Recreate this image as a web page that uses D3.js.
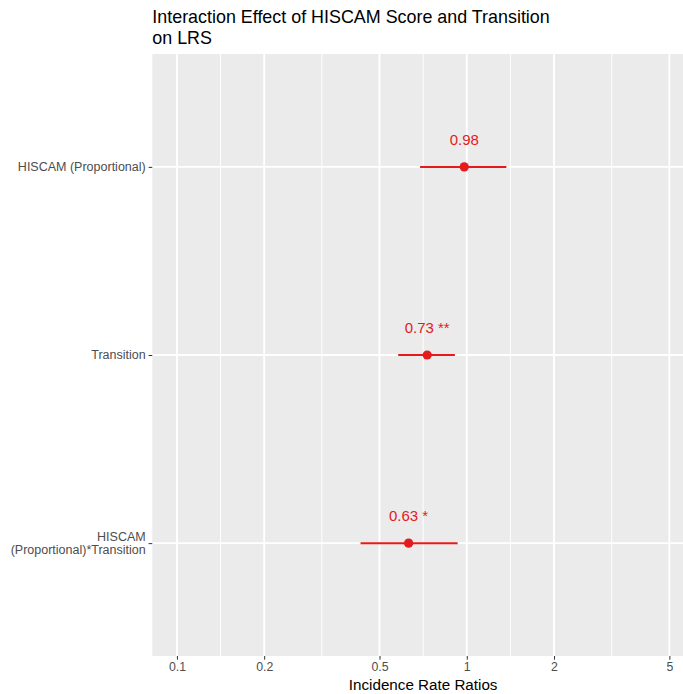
<!DOCTYPE html>
<html>
<head>
<meta charset="utf-8">
<script src="https://cdn.jsdelivr.net/npm/d3@7"></script>
<style>
  body { margin: 0; background: #fff; }
  svg { display: block; font-family: "Liberation Sans", Arial, Helvetica, sans-serif; }
</style>
</head>
<body>
<div id="chart"></div>
<script>
// data
const terms = ["HISCAM (Proportional)", "Transition", "HISCAM (Proportional)*Transition"];
const termLines = [["HISCAM (Proportional)"], ["Transition"], ["HISCAM", "(Proportional)*Transition"]];
const estimates = [0.98, 0.73, 0.63];
const lowerCI = [0.69, 0.58, 0.43];
const upperCI = [1.37, 0.91, 0.93];
const pLabels = ["0.98", "0.73 **", "0.63 *"];
const xTicks = [0.1, 0.2, 0.5, 1, 2, 5];
const xMinor = [0.1414, 0.3162, 0.7071, 1.4142, 3.1623];

const WIDTH = 683, HEIGHT = 694;
const PANEL = { left: 152.3, right: 694, top: 54, bottom: 656 };
const RED = "#E41A1C";

const svg = d3.select("#chart")
    .append("svg")
    .attr("width", WIDTH)
    .attr("height", HEIGHT);

// log scale, ggplot style 5% expansion around 0.1..5
const expand = 0.05 * (Math.log10(5) - Math.log10(0.1));
const x = d3.scaleLog()
    .domain([0.1 / Math.pow(10, expand), 5 * Math.pow(10, expand)])
    .range([PANEL.left, PANEL.right]);

// discrete y, 0.6 expansion each side, first term at top
const yUnit = (PANEL.bottom - PANEL.top) / (terms.length - 1 + 1.2);
const y = d3.scalePoint()
    .domain(terms)
    .range([PANEL.top + 0.6 * yUnit, PANEL.bottom - 0.6 * yUnit]);

svg.append("rect")
    .attr("x", PANEL.left)
    .attr("y", PANEL.top)
    .attr("width", PANEL.right - PANEL.left)
    .attr("height", PANEL.bottom - PANEL.top)
    .attr("fill", "#EBEBEB");

const grid = svg.append("g");
grid.selectAll(".minor")
    .data(xMinor)
    .enter()
    .append("line")
    .attr("x1", d => x(d)).attr("x2", d => x(d))
    .attr("y1", PANEL.top).attr("y2", PANEL.bottom)
    .attr("stroke", "#fff")
    .attr("stroke-width", 0.95);

grid.selectAll(".major")
    .data(xTicks)
    .enter()
    .append("line")
    .attr("x1", d => x(d)).attr("x2", d => x(d))
    .attr("y1", PANEL.top).attr("y2", PANEL.bottom)
    .attr("stroke", "#fff")
    .attr("stroke-width", 1.9);

grid.selectAll(".hmajor")
    .data(terms)
    .enter()
    .append("line")
    .attr("x1", PANEL.left).attr("x2", PANEL.right)
    .attr("y1", d => y(d)).attr("y2", d => y(d))
    .attr("stroke", "#fff")
    .attr("stroke-width", 1.9);

// x axis
const xAxis = svg.append("g")
    .attr("transform", `translate(0, ${PANEL.bottom})`)
    .call(d3.axisBottom(x).tickValues(xTicks).tickFormat(d3.format("~g")).tickSize(3.7).tickPadding(3));
xAxis.select(".domain").remove();
xAxis.selectAll(".tick line").attr("stroke", "#333").attr("stroke-width", 1);
xAxis.selectAll(".tick text")
    .attr("fill", "#4D4D4D")
    .style("font-size", "12.3px")
    .style("font-family", "'Liberation Sans', Arial, sans-serif");

// y axis
const yAxis = svg.append("g")
    .attr("transform", `translate(${PANEL.left}, 0)`)
    .call(d3.axisLeft(y).tickSize(3.7).tickFormat(""));
yAxis.select(".domain").remove();
yAxis.selectAll(".tick line").attr("stroke", "#333").attr("stroke-width", 1);

terms.forEach((t, i) => {
    const lines = termLines[i];
    const lh = 13;
    const txt = svg.append("text")
        .attr("text-anchor", "end")
        .attr("fill", "#4D4D4D")
        .style("font-size", "12.5px");
    lines.forEach((l, j) => {
        txt.append("tspan")
            .attr("x", PANEL.left - 6.6)
            .attr("y", y(t) + 4.4 + (j - (lines.length - 1) / 2) * lh)
            .text(l);
    });
});

// error bars, points, labels
const marks = svg.append("g");
marks.selectAll(".ci")
    .data(terms)
    .enter()
    .append("line")
    .attr("x1", (d, i) => x(lowerCI[i]))
    .attr("x2", (d, i) => x(upperCI[i]))
    .attr("y1", d => y(d)).attr("y2", d => y(d))
    .attr("stroke", RED)
    .attr("stroke-width", 2);

marks.selectAll("circle")
    .data(terms)
    .enter()
    .append("circle")
    .attr("cx", (d, i) => x(estimates[i]))
    .attr("cy", d => y(d))
    .attr("r", 4.6)
    .attr("fill", RED);

marks.selectAll(".lab")
    .data(terms)
    .enter()
    .append("text")
    .attr("x", (d, i) => x(estimates[i]))
    .attr("y", d => y(d) - 22)
    .attr("text-anchor", "middle")
    .attr("fill", RED)
    .style("font-size", "15px")
    .text((d, i) => pLabels[i]);

// titles
svg.append("text")
    .attr("x", (PANEL.left + PANEL.right) / 2)
    .attr("y", 690)
    .attr("text-anchor", "middle")
    .attr("fill", "#000")
    .style("font-size", "15.2px")
    .text("Incidence Rate Ratios");

const title = svg.append("text")
    .attr("fill", "#000")
    .style("font-size", "17.9px");
title.append("tspan").attr("x", PANEL.left).attr("y", 23).text("Interaction Effect of HISCAM Score and Transition");
title.append("tspan").attr("x", PANEL.left).attr("y", 44).text("on LRS");
</script>
</body>
</html>
